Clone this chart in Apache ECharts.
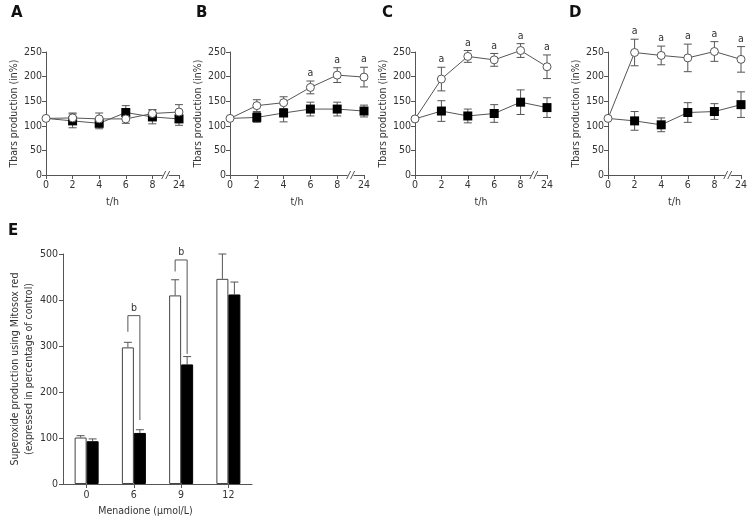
<!DOCTYPE html>
<html><head><meta charset="utf-8">
<script src="https://cdn.jsdelivr.net/npm/echarts@6/dist/echarts.min.js"></script>
<style>html,body{margin:0;padding:0;background:#fff}#c{width:755px;height:524px}</style>
</head><body><div id="c"></div>
<script>
const tLabels = ['0','2','4','6','8','24'];
// Panel A
const aCirc = [115,116,114,114,125,128];
const aCircErr = [0,10,12,9,8,15];
const aSq = [115,110,105,127,118,114];
const aSqErr = [0,14,11,14,14,13];
const aSig = [0,0,0,0,0,0];
// Panel B
const bCirc = [115,141,147,178,203,199];
const bCircErr = [0,12,12,13,15,20];
const bSq = [115,117,126,134,134,130];
const bSqErr = [0,10,18,14,14,12];
const bSig = [0,0,0,1,1,1];
// Panel C
const cCirc = [114,195,241,234,253,220];
const cCircErr = [0,24,12,13,14,24];
const cSq = [114,130,120,125,148,137];
const cSqErr = [0,21,14,18,25,20];
const cSig = [0,1,1,1,1,1];
// Panel D
const dCirc = [115,249,243,238,251,235];
const dCircErr = [0,27,19,28,20,26];
const dSq = [115,110,102,127,129,143];
const dSqErr = [0,19,14,20,16,26];
const dSig = [0,1,1,1,1,1];
// Panel E
const eCats = ['0','6','9','12'];
const eWhite = [101,297,410,446];
const eWhiteTop = [105,308,444,500];
const eBlack = [93,111,260,412];
const eBlackTop = [98,118,277,439];
// brackets: [category index, left leg bottom, right leg bottom, top]
const eBrackets = [[1,331,139,366],[2,462,283,487]];

const FONT = '"DejaVu Sans Condensed", "Noto Sans", sans-serif';
const FS = 10.5;
const TXT = '#333';
const AX = '#555';

const panels = [
  {letter:'A', circ:aCirc, circErr:aCircErr, sq:aSq, sqErr:aSqErr, sig:aSig, left:46, right:179, lx:11},
  {letter:'B', circ:bCirc, circErr:bCircErr, sq:bSq, sqErr:bSqErr, sig:bSig, left:230, right:364, lx:196},
  {letter:'C', circ:cCirc, circErr:cCircErr, sq:cSq, sqErr:cSqErr, sig:cSig, left:415, right:547, lx:382},
  {letter:'D', circ:dCirc, circErr:dCircErr, sq:dSq, sqErr:dSqErr, sig:dSig, left:608, right:741, lx:569}
];

const grids = [], xAxes = [], yAxes = [], series = [], graphics = [];

function lbl(margin) { return {color:TXT, fontFamily:FONT, fontSize:FS, margin:margin}; }
function axisCommon() {
  return {
    axisLine:{show:true, lineStyle:{color:AX, width:1}},
    axisTick:{show:true, length:4, lineStyle:{color:AX}},
    splitLine:{show:false},
    nameTextStyle:{color:TXT, fontFamily:FONT, fontSize:FS}
  };
}

function errRender(sigArr) {
  return function(params, api) {
    const i = api.value(0);
    const v = api.value(1), e = api.value(2);
    if (!e) return null;
    const top = api.coord([i, v + e]);
    const bot = api.coord([i, v - e]);
    const w = 4;
    const children = [
      {type:'line', shape:{x1:top[0], y1:top[1], x2:bot[0], y2:bot[1]}, style:{stroke:AX, lineWidth:1}},
      {type:'line', shape:{x1:top[0]-w, y1:top[1], x2:top[0]+w, y2:top[1]}, style:{stroke:AX, lineWidth:1}},
      {type:'line', shape:{x1:bot[0]-w, y1:bot[1], x2:bot[0]+w, y2:bot[1]}, style:{stroke:AX, lineWidth:1}}
    ];
    if (sigArr && sigArr[i]) {
      children.push({type:'text', style:{text:'a', x:top[0], y:top[1]-2, textAlign:'center', textVerticalAlign:'bottom', fill:TXT, fontFamily:FONT, fontSize:FS}});
    }
    return {type:'group', children:children};
  };
}

panels.forEach((p, k) => {
  grids.push({left:p.left, width:p.right - p.left, top:52, height:123});
  xAxes.push(Object.assign(axisCommon(), {
    gridIndex:k, type:'category', data:tLabels, boundaryGap:false,
    name:'t/h', nameLocation:'middle', nameGap:22,
    axisLabel:lbl(5)
  }));
  yAxes.push(Object.assign(axisCommon(), {
    gridIndex:k, type:'value', min:0, max:250, interval:50,
    name:'Tbars production (in%)', nameLocation:'middle', nameGap:26,
    axisLabel:lbl(4)
  }));
  const circErrData = p.circ.map((v,i)=>[i, v, p.circErr[i]]);
  const sqErrData = p.sq.map((v,i)=>[i, v, p.sqErr[i]]);
  series.push({type:'custom', xAxisIndex:k, yAxisIndex:k, renderItem:errRender(p.sig), data:circErrData, clip:false, z:2, silent:true});
  series.push({type:'custom', xAxisIndex:k, yAxisIndex:k, renderItem:errRender(null), data:sqErrData, clip:false, z:2, silent:true});
  series.push({type:'line', xAxisIndex:k, yAxisIndex:k, data:p.sq.map((v,i)=> i===0 ? {value:v, symbolSize:0} : v),
    symbol:'rect', symbolSize:9, itemStyle:{color:'#000'}, lineStyle:{color:AX, width:1}, clip:false, z:3, animation:false});
  series.push({type:'line', xAxisIndex:k, yAxisIndex:k, data:p.circ,
    symbol:'circle', symbolSize:8, itemStyle:{color:'#fff', borderColor:AX, borderWidth:1}, lineStyle:{color:AX, width:1}, clip:false, z:4,
    animation:false});
  graphics.push({type:'text', left:p.lx, top:6, style:{text:p.letter, font:'bold 15px "DejaVu Sans"', fill:'#111'}});
});

// Panel E
const eIdx = 4;
grids.push({left:63, width:189, top:254, height:230});
xAxes.push(Object.assign(axisCommon(), {
  gridIndex:eIdx, type:'category', data:eCats, boundaryGap:true,
  name:'Menadione (\u03bcmol/L)', nameLocation:'middle', nameGap:22,
  nameTextStyle:{color:TXT, fontFamily:FONT, fontSize:FS, padding:[0,24,0,0]},
  axisTick:{show:true, length:4, alignWithLabel:true, interval:0, lineStyle:{color:AX}},
  axisLabel:lbl(6)
}));
yAxes.push(Object.assign(axisCommon(), {
  gridIndex:eIdx, type:'value', min:0, max:500, interval:100,
  name:'Superoxide production using Mitosox red\n(expressed in percentage of control)', nameLocation:'middle', nameGap:27,
  nameTextStyle:{color:TXT, fontFamily:FONT, fontSize:FS, lineHeight:14},
  axisLabel:lbl(5)
}));
const BW = 12;
series.push({type:'bar', xAxisIndex:eIdx, yAxisIndex:eIdx, data:eWhite, barWidth:BW, barGap:'0%',
  itemStyle:{color:'#fff', borderColor:'#444', borderWidth:1}, z:3, animation:false});
series.push({type:'bar', xAxisIndex:eIdx, yAxisIndex:eIdx, data:eBlack, barWidth:BW, barGap:'0%',
  itemStyle:{color:'#000', borderColor:'#000', borderWidth:1}, z:3, animation:false});
function barErrRender(offsetSign) {
  return function(params, api) {
    const i = api.value(0);
    const base = api.coord([i, api.value(1)]);
    const top = api.coord([i, api.value(2)]);
    const x = base[0] + offsetSign * BW / 2;
    return {type:'group', children:[
      {type:'line', shape:{x1:x, y1:base[1], x2:x, y2:top[1]}, style:{stroke:'#555', lineWidth:1}},
      {type:'line', shape:{x1:x-4, y1:top[1], x2:x+4, y2:top[1]}, style:{stroke:'#555', lineWidth:1}}
    ]};
  };
}
series.push({type:'custom', xAxisIndex:eIdx, yAxisIndex:eIdx, renderItem:barErrRender(-1), data:eWhite.map((v,i)=>[i,v,eWhiteTop[i]]), clip:false, z:2, silent:true});
series.push({type:'custom', xAxisIndex:eIdx, yAxisIndex:eIdx, renderItem:barErrRender(1), data:eBlack.map((v,i)=>[i,v,eBlackTop[i]]), clip:false, z:2, silent:true});
series.push({type:'custom', xAxisIndex:eIdx, yAxisIndex:eIdx, clip:false, z:4, silent:true,
  data:eBrackets,
  renderItem:function(params, api){
    const i = api.value(0);
    const lb = api.coord([i, api.value(1)]);
    const rb = api.coord([i, api.value(2)]);
    const tp = api.coord([i, api.value(3)]);
    const xl = lb[0] - BW/2, xr = lb[0] + BW/2;
    return {type:'group', children:[
      {type:'polyline', shape:{points:[[xl, lb[1]],[xl, tp[1]],[xr, tp[1]],[xr, rb[1]]]}, style:{stroke:'#555', lineWidth:1, fill:null}},
      {type:'text', style:{text:'b', x:lb[0], y:tp[1]-2, textAlign:'center', textVerticalAlign:'bottom', fill:TXT, fontFamily:FONT, fontSize:FS}}
    ]};
  }
});
graphics.push({type:'text', left:8, top:224, style:{text:'E', font:'bold 15px "DejaVu Sans"', fill:'#111'}});

const chart = echarts.init(document.getElementById('c'), null, {renderer:'canvas'});
chart.setOption({
  animation:false,
  textStyle:{fontFamily:FONT},
  grid:grids, xAxis:xAxes, yAxis:yAxes, series:series, graphic:graphics
});

// axis break marks between 8 and 24
panels.forEach((p,k)=>{
  const a = chart.convertToPixel({gridIndex:k}, [4, 0]);
  const b = chart.convertToPixel({gridIndex:k}, [5, 0]);
  const mx = (a[0] + b[0]) / 2, my = a[1];
  graphics.push({type:'rect', shape:{x:mx-3, y:my-1, width:6, height:2}, style:{fill:'#fff'}, z:100});
  graphics.push({type:'line', shape:{x1:mx-4, y1:my+4, x2:mx, y2:my-4}, style:{stroke:AX, lineWidth:1}, z:101});
  graphics.push({type:'line', shape:{x1:mx, y1:my+4, x2:mx+4, y2:my-4}, style:{stroke:AX, lineWidth:1}, z:101});
});
chart.setOption({graphic:graphics});
</script></body></html>
